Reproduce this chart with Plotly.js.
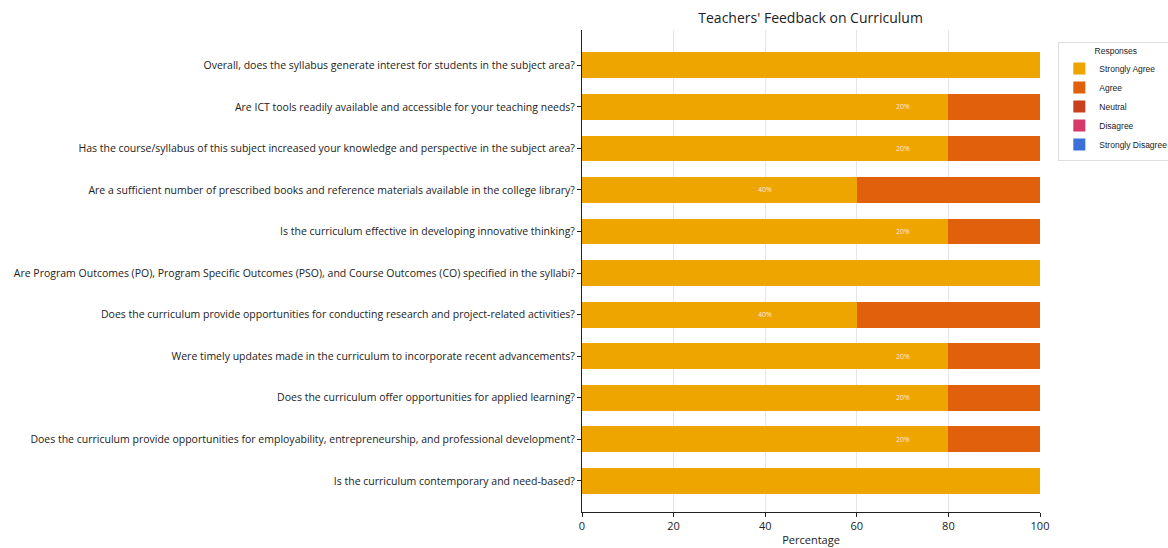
<!DOCTYPE html>
<html>
<head>
<meta charset="utf-8">
<script src="https://cdn.plot.ly/plotly-3.0.1.min.js"></script>
<style>
  html, body { margin: 0; padding: 0; background: #fff; }
  #chart { width: 1168px; height: 548px; }
</style>
</head>
<body>
<div id="chart"></div>
<script>
const questions = [
  "Overall, does the syllabus generate interest for students in the subject area?",
  "Are ICT tools readily available and accessible for your teaching needs?",
  "Has the course/syllabus of this subject increased your knowledge and perspective in the subject area?",
  "Are a sufficient number of prescribed books and reference materials available in the college library?",
  "Is the curriculum effective in developing innovative thinking?",
  "Are Program Outcomes (PO), Program Specific Outcomes (PSO), and Course Outcomes (CO) specified in the syllabi?",
  "Does the curriculum provide opportunities for conducting research and project-related activities?",
  "Were timely updates made in the curriculum to incorporate recent advancements?",
  "Does the curriculum offer opportunities for applied learning?",
  "Does the curriculum provide opportunities for employability, entrepreneurship, and professional development?",
  "Is the curriculum contemporary and need-based?"
];

const responses = ["Strongly Agree", "Agree", "Neutral", "Disagree", "Strongly Disagree"];
const responseColors = ["#eea500", "#e0600c", "#c8401c", "#d6386a", "#3a70d8"];

const stronglyAgree = [100, 80, 80, 60, 80, 100, 60, 80, 80, 80, 100];
const agree = [0, 20, 20, 40, 20, 0, 40, 20, 20, 20, 0];
const neutral = [0, 0, 0, 0, 0, 0, 0, 0, 0, 0, 0];
const disagree = [0, 0, 0, 0, 0, 0, 0, 0, 0, 0, 0];
const stronglyDisagree = [0, 0, 0, 0, 0, 0, 0, 0, 0, 0, 0];

const series = [stronglyAgree, agree, neutral, disagree, stronglyDisagree];

const traces = series.map((vals, i) => ({
  type: "bar",
  orientation: "h",
  name: responses[i],
  x: vals,
  y: questions,
  marker: { color: responseColors[i] },
  hoverinfo: "x+name"
}));

// the labels sit inside the Strongly Agree bar, as in the source
const labels = [];
questions.forEach((q, i) => {
  if (agree[i] > 0) {
    labels.push({
      x: stronglyAgree[i] - agree[i] / 2, y: q, xref: "x", yref: "y",
      text: agree[i] + "%", showarrow: false,
      font: { size: 7, color: "rgba(255,255,255,0.8)" }
    });
  }
});

const layout = {
  width: 1168, height: 548,
  barmode: "stack",
  bargap: 0.38,
  paper_bgcolor: "#fff",
  plot_bgcolor: "#fff",
  margin: { t: 30, r: 128, b: 36, l: 582, autoexpand: false },
  font: { family: "Open Sans, Arial, sans-serif", color: "#222", size: 11 },
  title: {
    text: "Teachers' Feedback on Curriculum",
    x: 0.694, xanchor: "center", y: 0.967, yanchor: "middle",
    font: { size: 14, color: "#222" }
  },
  xaxis: {
    range: [0, 100],
    tickvals: [0, 20, 40, 60, 80, 100],
    showgrid: true, gridcolor: "#e6e6e6", gridwidth: 1,
    zeroline: false,
    showline: true, linecolor: "#222", linewidth: 1,
    ticks: "outside", ticklen: 4, tickcolor: "#222",
    tickfont: { size: 11 },
    title: { text: "Percentage", font: { size: 11 }, standoff: 4 }
  },
  yaxis: {
    autorange: false,
    range: [10.75, -0.85],
    type: "category",
    showgrid: false, zeroline: false,
    showline: true, linecolor: "#222", linewidth: 1,
    ticks: "outside", ticklen: 4, tickcolor: "#222",
    tickfont: { size: 10.5 }
  },
  legend: {
    x: 1.04, xanchor: "left", y: 0.975, yanchor: "top",
    bgcolor: "#fff", bordercolor: "#ddd", borderwidth: 1,
    traceorder: "normal",
    font: { size: 8.5, family: "Liberation Sans Narrow, Liberation Sans, Arial, sans-serif" },
    itemwidth: 30,
    tracegroupgap: 0,
    title: { text: "Responses", side: "top center", font: { size: 8.5, family: "Liberation Sans Narrow, Liberation Sans, Arial, sans-serif" } }
  },
  annotations: labels
};

Plotly.newPlot("chart", traces, layout, { displayModeBar: false, staticPlot: true });
</script>
</body>
</html>
